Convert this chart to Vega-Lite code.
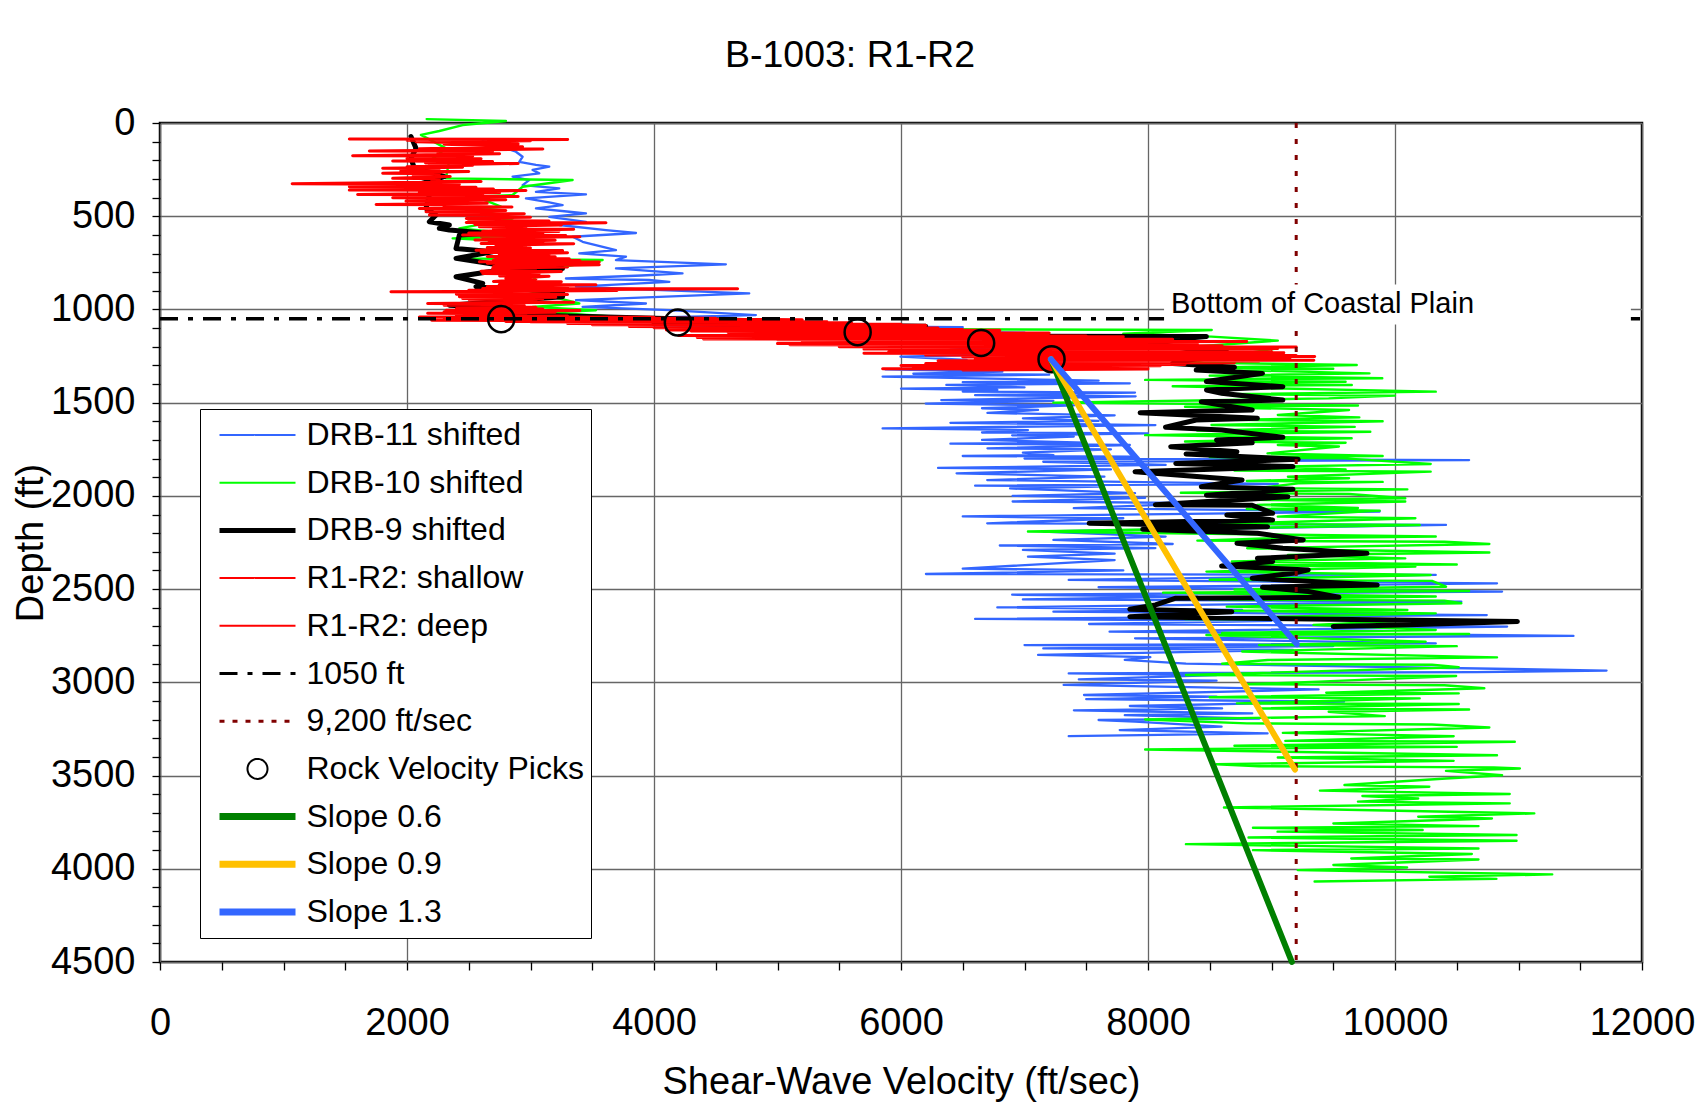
{
"$schema":"https://vega.github.io/schema/vega-lite/v6.json",
"width":1482,"height":839,
"autosize":{"type":"none"},
"padding":{"left":160,"top":123,"right":55,"bottom":148},
"background":"white",
"title":{"text":"B-1003: R1-R2","fontSize":37.5,"font":"Liberation Sans","fontWeight":"normal","color":"#000","anchor":"middle","frame":"group","dx":-51,"dy":47,"offset":47,"baseline":"alphabetic"},
"config":{"font":"Liberation Sans","view":{"stroke":"#000","strokeWidth":2.5},
"axis":{"labelFont":"Liberation Sans","labelFontSize":38,"labelColor":"#000","titleFont":"Liberation Sans","titleFontSize":38,"titleFontWeight":"normal","titleColor":"#000","tickColor":"#000","tickWidth":1.3,"tickSize":8,"domain":false,"gridColor":"#666666","gridWidth":1.3}},
"datasets":{
"b11":[
{"s":"DRB-11 shifted","v":2612,"d":97},{"s":"DRB-11 shifted","v":2720,"d":118},{"s":"DRB-11 shifted","v":2882,"d":154},{"s":"DRB-11 shifted","v":2936,"d":181},{"s":"DRB-11 shifted","v":2909,"d":208},{"s":"DRB-11 shifted","v":3044,"d":225},{"s":"DRB-11 shifted","v":3152,"d":234},{"s":"DRB-11 shifted","v":3017,"d":252},{"s":"DRB-11 shifted","v":3071,"d":270},{"s":"DRB-11 shifted","v":2855,"d":288},{"s":"DRB-11 shifted","v":2990,"d":306},{"s":"DRB-11 shifted","v":2936,"d":333},{"s":"DRB-11 shifted","v":3233,"d":351},{"s":"DRB-11 shifted","v":3044,"d":369},{"s":"DRB-11 shifted","v":3449,"d":383},{"s":"DRB-11 shifted","v":2963,"d":404},{"s":"DRB-11 shifted","v":3152,"d":426},{"s":"DRB-11 shifted","v":3260,"d":440},{"s":"DRB-11 shifted","v":3044,"d":458},{"s":"DRB-11 shifted","v":3314,"d":476},{"s":"DRB-11 shifted","v":3449,"d":485},{"s":"DRB-11 shifted","v":3152,"d":503},{"s":"DRB-11 shifted","v":3449,"d":530},{"s":"DRB-11 shifted","v":3233,"d":547},{"s":"DRB-11 shifted","v":3611,"d":574},{"s":"DRB-11 shifted","v":3854,"d":590},{"s":"DRB-11 shifted","v":3341,"d":610},{"s":"DRB-11 shifted","v":3422,"d":637},{"s":"DRB-11 shifted","v":3692,"d":682},{"s":"DRB-11 shifted","v":3395,"d":699},{"s":"DRB-11 shifted","v":3773,"d":717},{"s":"DRB-11 shifted","v":3692,"d":735},{"s":"DRB-11 shifted","v":4582,"d":758},{"s":"DRB-11 shifted","v":3692,"d":780},{"s":"DRB-11 shifted","v":4231,"d":807},{"s":"DRB-11 shifted","v":3900,"d":818},{"s":"DRB-11 shifted","v":3287,"d":834},{"s":"DRB-11 shifted","v":3962,"d":842},{"s":"DRB-11 shifted","v":4124,"d":852},{"s":"DRB-11 shifted","v":3368,"d":878},{"s":"DRB-11 shifted","v":4000,"d":895},{"s":"DRB-11 shifted","v":4771,"d":914},{"s":"DRB-11 shifted","v":3368,"d":950},{"s":"DRB-11 shifted","v":3935,"d":968},{"s":"DRB-11 shifted","v":3422,"d":986},{"s":"DRB-11 shifted","v":4124,"d":1004},{"s":"DRB-11 shifted","v":4825,"d":1030},{"s":"DRB-11 shifted","v":3692,"d":1048},{"s":"DRB-11 shifted","v":5200,"d":1068},{"s":"DRB-11 shifted","v":4000,"d":1085},{"s":"DRB-11 shifted","v":6500,"d":1095},{"s":"DRB-11 shifted","v":5000,"d":1105},{"s":"DRB-11 shifted","v":7000,"d":1125},{"s":"DRB-11 shifted","v":6200,"d":1150},{"s":"DRB-11 shifted","v":7474,"d":1180},{"s":"DRB-11 shifted","v":6400,"d":1215},{"s":"DRB-11 shifted","v":7100,"d":1238},{"s":"DRB-11 shifted","v":5996,"d":1253},{"s":"DRB-11 shifted","v":6532,"d":1271},{"s":"DRB-11 shifted","v":6300,"d":1290},{"s":"DRB-11 shifted","v":7400,"d":1300},{"s":"DRB-11 shifted","v":5872,"d":1321},{"s":"DRB-11 shifted","v":6821,"d":1334},{"s":"DRB-11 shifted","v":6100,"d":1345},{"s":"DRB-11 shifted","v":7200,"d":1350},{"s":"DRB-11 shifted","v":5851,"d":1360},{"s":"DRB-11 shifted","v":7600,"d":1382},{"s":"DRB-11 shifted","v":6500,"d":1390},{"s":"DRB-11 shifted","v":7853,"d":1396},{"s":"DRB-11 shifted","v":6367,"d":1405},{"s":"DRB-11 shifted","v":7000,"d":1418},{"s":"DRB-11 shifted","v":6000,"d":1425},{"s":"DRB-11 shifted","v":6780,"d":1432},{"s":"DRB-11 shifted","v":6500,"d":1440},{"s":"DRB-11 shifted","v":7895,"d":1446},{"s":"DRB-11 shifted","v":6600,"d":1460},{"s":"DRB-11 shifted","v":7900,"d":1466},{"s":"DRB-11 shifted","v":6326,"d":1486},{"s":"DRB-11 shifted","v":7234,"d":1490},{"s":"DRB-11 shifted","v":6200,"d":1505},{"s":"DRB-11 shifted","v":7400,"d":1515},{"s":"DRB-11 shifted","v":6656,"d":1530},{"s":"DRB-11 shifted","v":7110,"d":1539},{"s":"DRB-11 shifted","v":6700,"d":1555},{"s":"DRB-11 shifted","v":7730,"d":1568},{"s":"DRB-11 shifted","v":6987,"d":1584},{"s":"DRB-11 shifted","v":7600,"d":1598},{"s":"DRB-11 shifted","v":6400,"d":1608},{"s":"DRB-11 shifted","v":8060,"d":1620},{"s":"DRB-11 shifted","v":5851,"d":1638},{"s":"DRB-11 shifted","v":7028,"d":1647},{"s":"DRB-11 shifted","v":6656,"d":1660},{"s":"DRB-11 shifted","v":8000,"d":1665},{"s":"DRB-11 shifted","v":6900,"d":1675},{"s":"DRB-11 shifted","v":7399,"d":1682},{"s":"DRB-11 shifted","v":6656,"d":1700},{"s":"DRB-11 shifted","v":7500,"d":1715},{"s":"DRB-11 shifted","v":6400,"d":1720},{"s":"DRB-11 shifted","v":7853,"d":1727},{"s":"DRB-11 shifted","v":6700,"d":1745},{"s":"DRB-11 shifted","v":7700,"d":1750},{"s":"DRB-11 shifted","v":6987,"d":1768},{"s":"DRB-11 shifted","v":7234,"d":1781},{"s":"DRB-11 shifted","v":6500,"d":1786},{"s":"DRB-11 shifted","v":7895,"d":1790},{"s":"DRB-11 shifted","v":7000,"d":1800},{"s":"DRB-11 shifted","v":10600,"d":1808},{"s":"DRB-11 shifted","v":7152,"d":1817},{"s":"DRB-11 shifted","v":8143,"d":1834},{"s":"DRB-11 shifted","v":6300,"d":1850},{"s":"DRB-11 shifted","v":7700,"d":1858},{"s":"DRB-11 shifted","v":6450,"d":1879},{"s":"DRB-11 shifted","v":7647,"d":1897},{"s":"DRB-11 shifted","v":6698,"d":1915},{"s":"DRB-11 shifted","v":9051,"d":1936},{"s":"DRB-11 shifted","v":6600,"d":1945},{"s":"DRB-11 shifted","v":7600,"d":1950},{"s":"DRB-11 shifted","v":6883,"d":1960},{"s":"DRB-11 shifted","v":7895,"d":1985},{"s":"DRB-11 shifted","v":6904,"d":2000},{"s":"DRB-11 shifted","v":7977,"d":2010},{"s":"DRB-11 shifted","v":6904,"d":2030},{"s":"DRB-11 shifted","v":8473,"d":2039},{"s":"DRB-11 shifted","v":7399,"d":2066},{"s":"DRB-11 shifted","v":9876,"d":2084},{"s":"DRB-11 shifted","v":6500,"d":2110},{"s":"DRB-11 shifted","v":7800,"d":2120},{"s":"DRB-11 shifted","v":6698,"d":2147},{"s":"DRB-11 shifted","v":10413,"d":2156},{"s":"DRB-11 shifted","v":7152,"d":2191},{"s":"DRB-11 shifted","v":8143,"d":2218},{"s":"DRB-11 shifted","v":7234,"d":2236},{"s":"DRB-11 shifted","v":8200,"d":2258},{"s":"DRB-11 shifted","v":6800,"d":2266},{"s":"DRB-11 shifted","v":8060,"d":2280},{"s":"DRB-11 shifted","v":6987,"d":2290},{"s":"DRB-11 shifted","v":7730,"d":2310},{"s":"DRB-11 shifted","v":7028,"d":2326},{"s":"DRB-11 shifted","v":7730,"d":2344},{"s":"DRB-11 shifted","v":6500,"d":2390},{"s":"DRB-11 shifted","v":7800,"d":2400},{"s":"DRB-11 shifted","v":6202,"d":2419},{"s":"DRB-11 shifted","v":10330,"d":2424},{"s":"DRB-11 shifted","v":7358,"d":2451},{"s":"DRB-11 shifted","v":10826,"d":2469},{"s":"DRB-11 shifted","v":7600,"d":2490},{"s":"DRB-11 shifted","v":10867,"d":2513},{"s":"DRB-11 shifted","v":6900,"d":2530},{"s":"DRB-11 shifted","v":8400,"d":2540},{"s":"DRB-11 shifted","v":6987,"d":2555},{"s":"DRB-11 shifted","v":10537,"d":2567},{"s":"DRB-11 shifted","v":6780,"d":2598},{"s":"DRB-11 shifted","v":8762,"d":2612},{"s":"DRB-11 shifted","v":7234,"d":2621},{"s":"DRB-11 shifted","v":10743,"d":2639},{"s":"DRB-11 shifted","v":6600,"d":2660},{"s":"DRB-11 shifted","v":9000,"d":2670},{"s":"DRB-11 shifted","v":7523,"d":2687},{"s":"DRB-11 shifted","v":10908,"d":2701},{"s":"DRB-11 shifted","v":7689,"d":2728},{"s":"DRB-11 shifted","v":11445,"d":2751},{"s":"DRB-11 shifted","v":7895,"d":2764},{"s":"DRB-11 shifted","v":10330,"d":2791},{"s":"DRB-11 shifted","v":7000,"d":2800},{"s":"DRB-11 shifted","v":9500,"d":2805},{"s":"DRB-11 shifted","v":7152,"d":2818},{"s":"DRB-11 shifted","v":9174,"d":2826},{"s":"DRB-11 shifted","v":7110,"d":2853},{"s":"DRB-11 shifted","v":8019,"d":2865},{"s":"DRB-11 shifted","v":7812,"d":2880},{"s":"DRB-11 shifted","v":8308,"d":2900},{"s":"DRB-11 shifted","v":11713,"d":2937},{"s":"DRB-11 shifted","v":10661,"d":2945},{"s":"DRB-11 shifted","v":7358,"d":2952},{"s":"DRB-11 shifted","v":8555,"d":2961},{"s":"DRB-11 shifted","v":7440,"d":2984},{"s":"DRB-11 shifted","v":8555,"d":2991},{"s":"DRB-11 shifted","v":7317,"d":3014},{"s":"DRB-11 shifted","v":9381,"d":3038},{"s":"DRB-11 shifted","v":7482,"d":3068},{"s":"DRB-11 shifted","v":8555,"d":3077},{"s":"DRB-11 shifted","v":7500,"d":3090},{"s":"DRB-11 shifted","v":9587,"d":3104},{"s":"DRB-11 shifted","v":7853,"d":3127},{"s":"DRB-11 shifted","v":8600,"d":3140},{"s":"DRB-11 shifted","v":7400,"d":3150},{"s":"DRB-11 shifted","v":8844,"d":3167},{"s":"DRB-11 shifted","v":7812,"d":3176},{"s":"DRB-11 shifted","v":8900,"d":3195},{"s":"DRB-11 shifted","v":7600,"d":3202},{"s":"DRB-11 shifted","v":7895,"d":3211},{"s":"DRB-11 shifted","v":8596,"d":3238},{"s":"DRB-11 shifted","v":7771,"d":3256},{"s":"DRB-11 shifted","v":8968,"d":3274},{"s":"DRB-11 shifted","v":7358,"d":3289}
],
"g10":[
{"s":"DRB-10 shifted","v":2159,"d":-21},{"s":"DRB-10 shifted","v":2801,"d":-11},{"s":"DRB-10 shifted","v":2451,"d":11},{"s":"DRB-10 shifted","v":2262,"d":43},{"s":"DRB-10 shifted","v":2113,"d":64},{"s":"DRB-10 shifted","v":2316,"d":136},{"s":"DRB-10 shifted","v":2208,"d":190},{"s":"DRB-10 shifted","v":2343,"d":195},{"s":"DRB-10 shifted","v":2316,"d":297},{"s":"DRB-10 shifted","v":3341,"d":306},{"s":"DRB-10 shifted","v":2936,"d":342},{"s":"DRB-10 shifted","v":2855,"d":386},{"s":"DRB-10 shifted","v":2559,"d":395},{"s":"DRB-10 shifted","v":2761,"d":449},{"s":"DRB-10 shifted","v":2559,"d":462},{"s":"DRB-10 shifted","v":2855,"d":512},{"s":"DRB-10 shifted","v":2424,"d":565},{"s":"DRB-10 shifted","v":2990,"d":601},{"s":"DRB-10 shifted","v":2370,"d":619},{"s":"DRB-10 shifted","v":3017,"d":640},{"s":"DRB-10 shifted","v":2424,"d":726},{"s":"DRB-10 shifted","v":3584,"d":735},{"s":"DRB-10 shifted","v":2855,"d":816},{"s":"DRB-10 shifted","v":3044,"d":825},{"s":"DRB-10 shifted","v":2963,"d":896},{"s":"DRB-10 shifted","v":3395,"d":968},{"s":"DRB-10 shifted","v":3017,"d":986},{"s":"DRB-10 shifted","v":3530,"d":1004},{"s":"DRB-10 shifted","v":3152,"d":1016},{"s":"DRB-10 shifted","v":3692,"d":1039},{"s":"DRB-10 shifted","v":4800,"d":1060},{"s":"DRB-10 shifted","v":4200,"d":1075},{"s":"DRB-10 shifted","v":6200,"d":1100},{"s":"DRB-10 shifted","v":5600,"d":1105},{"s":"DRB-10 shifted","v":8516,"d":1110},{"s":"DRB-10 shifted","v":7800,"d":1130},{"s":"DRB-10 shifted","v":8514,"d":1146},{"s":"DRB-10 shifted","v":9051,"d":1167},{"s":"DRB-10 shifted","v":8308,"d":1203},{"s":"DRB-10 shifted","v":9051,"d":1208},{"s":"DRB-10 shifted","v":8308,"d":1285},{"s":"DRB-10 shifted","v":9690,"d":1298},{"s":"DRB-10 shifted","v":8400,"d":1312},{"s":"DRB-10 shifted","v":9500,"d":1318},{"s":"DRB-10 shifted","v":8720,"d":1325},{"s":"DRB-10 shifted","v":9793,"d":1343},{"s":"DRB-10 shifted","v":8500,"d":1355},{"s":"DRB-10 shifted","v":9897,"d":1369},{"s":"DRB-10 shifted","v":7977,"d":1378},{"s":"DRB-10 shifted","v":9600,"d":1388},{"s":"DRB-10 shifted","v":8596,"d":1396},{"s":"DRB-10 shifted","v":9650,"d":1405},{"s":"DRB-10 shifted","v":8200,"d":1412},{"s":"DRB-10 shifted","v":10330,"d":1441},{"s":"DRB-10 shifted","v":8600,"d":1455},{"s":"DRB-10 shifted","v":10000,"d":1462},{"s":"DRB-10 shifted","v":9463,"d":1477},{"s":"DRB-10 shifted","v":8400,"d":1488},{"s":"DRB-10 shifted","v":7234,"d":1500},{"s":"DRB-10 shifted","v":9700,"d":1515},{"s":"DRB-10 shifted","v":8300,"d":1522},{"s":"DRB-10 shifted","v":9628,"d":1539},{"s":"DRB-10 shifted","v":9051,"d":1566},{"s":"DRB-10 shifted","v":9711,"d":1579},{"s":"DRB-10 shifted","v":8700,"d":1592},{"s":"DRB-10 shifted","v":9900,"d":1600},{"s":"DRB-10 shifted","v":8514,"d":1620},{"s":"DRB-10 shifted","v":9674,"d":1630},{"s":"DRB-10 shifted","v":8400,"d":1650},{"s":"DRB-10 shifted","v":9800,"d":1656},{"s":"DRB-10 shifted","v":7977,"d":1674},{"s":"DRB-10 shifted","v":9649,"d":1691},{"s":"DRB-10 shifted","v":8300,"d":1708},{"s":"DRB-10 shifted","v":9600,"d":1715},{"s":"DRB-10 shifted","v":9051,"d":1727},{"s":"DRB-10 shifted","v":9546,"d":1735},{"s":"DRB-10 shifted","v":8968,"d":1772},{"s":"DRB-10 shifted","v":9900,"d":1786},{"s":"DRB-10 shifted","v":8500,"d":1792},{"s":"DRB-10 shifted","v":9587,"d":1799},{"s":"DRB-10 shifted","v":10289,"d":1829},{"s":"DRB-10 shifted","v":9009,"d":1843},{"s":"DRB-10 shifted","v":9600,"d":1858},{"s":"DRB-10 shifted","v":8700,"d":1864},{"s":"DRB-10 shifted","v":10289,"d":1870},{"s":"DRB-10 shifted","v":9133,"d":1897},{"s":"DRB-10 shifted","v":9628,"d":1905},{"s":"DRB-10 shifted","v":8800,"d":1920},{"s":"DRB-10 shifted","v":9900,"d":1925},{"s":"DRB-10 shifted","v":9216,"d":1933},{"s":"DRB-10 shifted","v":8900,"d":1958},{"s":"DRB-10 shifted","v":10100,"d":1965},{"s":"DRB-10 shifted","v":8266,"d":1983},{"s":"DRB-10 shifted","v":9628,"d":1990},{"s":"DRB-10 shifted","v":10083,"d":2013},{"s":"DRB-10 shifted","v":8885,"d":2021},{"s":"DRB-10 shifted","v":10083,"d":2030},{"s":"DRB-10 shifted","v":8885,"d":2048},{"s":"DRB-10 shifted","v":9700,"d":2065},{"s":"DRB-10 shifted","v":8800,"d":2070},{"s":"DRB-10 shifted","v":9876,"d":2079},{"s":"DRB-10 shifted","v":9051,"d":2111},{"s":"DRB-10 shifted","v":10165,"d":2120},{"s":"DRB-10 shifted","v":8600,"d":2150},{"s":"DRB-10 shifted","v":10200,"d":2156},{"s":"DRB-10 shifted","v":7028,"d":2191},{"s":"DRB-10 shifted","v":10330,"d":2218},{"s":"DRB-10 shifted","v":9009,"d":2227},{"s":"DRB-10 shifted","v":8400,"d":2240},{"s":"DRB-10 shifted","v":10400,"d":2246},{"s":"DRB-10 shifted","v":10764,"d":2258},{"s":"DRB-10 shifted","v":8803,"d":2281},{"s":"DRB-10 shifted","v":10764,"d":2304},{"s":"DRB-10 shifted","v":9133,"d":2317},{"s":"DRB-10 shifted","v":10083,"d":2335},{"s":"DRB-10 shifted","v":8679,"d":2352},{"s":"DRB-10 shifted","v":10500,"d":2368},{"s":"DRB-10 shifted","v":8700,"d":2372},{"s":"DRB-10 shifted","v":10165,"d":2379},{"s":"DRB-10 shifted","v":8473,"d":2406},{"s":"DRB-10 shifted","v":10289,"d":2424},{"s":"DRB-10 shifted","v":8500,"d":2450},{"s":"DRB-10 shifted","v":10300,"d":2456},{"s":"DRB-10 shifted","v":10413,"d":2487},{"s":"DRB-10 shifted","v":8700,"d":2502},{"s":"DRB-10 shifted","v":10600,"d":2510},{"s":"DRB-10 shifted","v":8122,"d":2519},{"s":"DRB-10 shifted","v":10330,"d":2540},{"s":"DRB-10 shifted","v":8500,"d":2555},{"s":"DRB-10 shifted","v":10400,"d":2562},{"s":"DRB-10 shifted","v":10537,"d":2576},{"s":"DRB-10 shifted","v":8638,"d":2594},{"s":"DRB-10 shifted","v":10100,"d":2612},{"s":"DRB-10 shifted","v":8700,"d":2616},{"s":"DRB-10 shifted","v":10330,"d":2630},{"s":"DRB-10 shifted","v":8300,"d":2660},{"s":"DRB-10 shifted","v":10200,"d":2666},{"s":"DRB-10 shifted","v":9340,"d":2692},{"s":"DRB-10 shifted","v":10330,"d":2719},{"s":"DRB-10 shifted","v":8600,"d":2735},{"s":"DRB-10 shifted","v":10600,"d":2741},{"s":"DRB-10 shifted","v":8473,"d":2746},{"s":"DRB-10 shifted","v":10248,"d":2782},{"s":"DRB-10 shifted","v":8900,"d":2800},{"s":"DRB-10 shifted","v":10500,"d":2806},{"s":"DRB-10 shifted","v":8762,"d":2835},{"s":"DRB-10 shifted","v":10826,"d":2866},{"s":"DRB-10 shifted","v":8968,"d":2880},{"s":"DRB-10 shifted","v":8600,"d":2900},{"s":"DRB-10 shifted","v":10300,"d":2906},{"s":"DRB-10 shifted","v":10516,"d":2919},{"s":"DRB-10 shifted","v":8308,"d":2961},{"s":"DRB-10 shifted","v":10495,"d":2966},{"s":"DRB-10 shifted","v":9381,"d":2996},{"s":"DRB-10 shifted","v":8800,"d":3010},{"s":"DRB-10 shifted","v":10400,"d":3016},{"s":"DRB-10 shifted","v":10723,"d":3032},{"s":"DRB-10 shifted","v":9443,"d":3056},{"s":"DRB-10 shifted","v":10516,"d":3059},{"s":"DRB-10 shifted","v":8500,"d":3080},{"s":"DRB-10 shifted","v":10200,"d":3086},{"s":"DRB-10 shifted","v":8720,"d":3113},{"s":"DRB-10 shifted","v":10516,"d":3116},{"s":"DRB-10 shifted","v":8900,"d":3140},{"s":"DRB-10 shifted","v":10600,"d":3146},{"s":"DRB-10 shifted","v":9463,"d":3158},{"s":"DRB-10 shifted","v":9917,"d":3181},{"s":"DRB-10 shifted","v":7977,"d":3199},{"s":"DRB-10 shifted","v":8800,"d":3220},{"s":"DRB-10 shifted","v":10300,"d":3226},{"s":"DRB-10 shifted","v":10764,"d":3242},{"s":"DRB-10 shifted","v":9092,"d":3271},{"s":"DRB-10 shifted","v":10475,"d":3289},{"s":"DRB-10 shifted","v":9112,"d":3314},{"s":"DRB-10 shifted","v":10970,"d":3319},{"s":"DRB-10 shifted","v":8700,"d":3340},{"s":"DRB-10 shifted","v":10500,"d":3346},{"s":"DRB-10 shifted","v":7977,"d":3360},{"s":"DRB-10 shifted","v":10826,"d":3391},{"s":"DRB-10 shifted","v":9051,"d":3403},{"s":"DRB-10 shifted","v":10475,"d":3421},{"s":"DRB-10 shifted","v":8555,"d":3439},{"s":"DRB-10 shifted","v":8900,"d":3450},{"s":"DRB-10 shifted","v":10800,"d":3456},{"s":"DRB-10 shifted","v":11011,"d":3462},{"s":"DRB-10 shifted","v":10413,"d":3475},{"s":"DRB-10 shifted","v":10867,"d":3498},{"s":"DRB-10 shifted","v":10413,"d":3516},{"s":"DRB-10 shifted","v":9591,"d":3551},{"s":"DRB-10 shifted","v":10278,"d":3560},{"s":"DRB-10 shifted","v":9392,"d":3581},{"s":"DRB-10 shifted","v":10929,"d":3599},{"s":"DRB-10 shifted","v":9736,"d":3610},{"s":"DRB-10 shifted","v":10188,"d":3623},{"s":"DRB-10 shifted","v":9700,"d":3640},{"s":"DRB-10 shifted","v":10929,"d":3649},{"s":"DRB-10 shifted","v":8615,"d":3671},{"s":"DRB-10 shifted","v":11128,"d":3703},{"s":"DRB-10 shifted","v":10188,"d":3721},{"s":"DRB-10 shifted","v":10785,"d":3730},{"s":"DRB-10 shifted","v":9501,"d":3757},{"s":"DRB-10 shifted","v":10676,"d":3771},{"s":"DRB-10 shifted","v":8850,"d":3780},{"s":"DRB-10 shifted","v":10224,"d":3792},{"s":"DRB-10 shifted","v":9049,"d":3801},{"s":"DRB-10 shifted","v":10984,"d":3819},{"s":"DRB-10 shifted","v":8814,"d":3832},{"s":"DRB-10 shifted","v":10984,"d":3850},{"s":"DRB-10 shifted","v":8307,"d":3868},{"s":"DRB-10 shifted","v":10676,"d":3891},{"s":"DRB-10 shifted","v":8850,"d":3900},{"s":"DRB-10 shifted","v":10622,"d":3921},{"s":"DRB-10 shifted","v":9646,"d":3945},{"s":"DRB-10 shifted","v":10676,"d":3950},{"s":"DRB-10 shifted","v":9501,"d":3980},{"s":"DRB-10 shifted","v":10098,"d":3993},{"s":"DRB-10 shifted","v":9212,"d":4007},{"s":"DRB-10 shifted","v":11273,"d":4030},{"s":"DRB-10 shifted","v":10278,"d":4043},{"s":"DRB-10 shifted","v":10821,"d":4054},{"s":"DRB-10 shifted","v":9349,"d":4068}
],
"k9":[
{"s":"DRB-9 shifted","v":2032,"d":73},{"s":"DRB-9 shifted","v":2073,"d":136},{"s":"DRB-9 shifted","v":2032,"d":190},{"s":"DRB-9 shifted","v":2060,"d":243},{"s":"DRB-9 shifted","v":2221,"d":270},{"s":"DRB-9 shifted","v":2302,"d":288},{"s":"DRB-9 shifted","v":2073,"d":333},{"s":"DRB-9 shifted","v":2181,"d":386},{"s":"DRB-9 shifted","v":2154,"d":458},{"s":"DRB-9 shifted","v":2235,"d":494},{"s":"DRB-9 shifted","v":2181,"d":530},{"s":"DRB-9 shifted","v":2343,"d":547},{"s":"DRB-9 shifted","v":2262,"d":565},{"s":"DRB-9 shifted","v":2343,"d":574},{"s":"DRB-9 shifted","v":2666,"d":592},{"s":"DRB-9 shifted","v":2424,"d":601},{"s":"DRB-9 shifted","v":2397,"d":673},{"s":"DRB-9 shifted","v":2693,"d":691},{"s":"DRB-9 shifted","v":2397,"d":726},{"s":"DRB-9 shifted","v":2747,"d":762},{"s":"DRB-9 shifted","v":3260,"d":780},{"s":"DRB-9 shifted","v":2666,"d":798},{"s":"DRB-9 shifted","v":2397,"d":825},{"s":"DRB-9 shifted","v":2613,"d":860},{"s":"DRB-9 shifted","v":2559,"d":878},{"s":"DRB-9 shifted","v":3260,"d":905},{"s":"DRB-9 shifted","v":3260,"d":932},{"s":"DRB-9 shifted","v":2343,"d":977},{"s":"DRB-9 shifted","v":2936,"d":995},{"s":"DRB-9 shifted","v":2774,"d":1027},{"s":"DRB-9 shifted","v":5176,"d":1066},{"s":"DRB-9 shifted","v":4000,"d":1075},{"s":"DRB-9 shifted","v":6200,"d":1090},{"s":"DRB-9 shifted","v":5900,"d":1142},{"s":"DRB-9 shifted","v":8473,"d":1145},{"s":"DRB-9 shifted","v":7770,"d":1185},{"s":"DRB-9 shifted","v":8100,"d":1188},{"s":"DRB-9 shifted","v":8470,"d":1226},{"s":"DRB-9 shifted","v":8640,"d":1230},{"s":"DRB-9 shifted","v":8200,"d":1290},{"s":"DRB-9 shifted","v":8700,"d":1310},{"s":"DRB-9 shifted","v":8390,"d":1325},{"s":"DRB-9 shifted","v":8927,"d":1343},{"s":"DRB-9 shifted","v":8473,"d":1387},{"s":"DRB-9 shifted","v":9092,"d":1414},{"s":"DRB-9 shifted","v":8473,"d":1432},{"s":"DRB-9 shifted","v":8597,"d":1450},{"s":"DRB-9 shifted","v":9092,"d":1486},{"s":"DRB-9 shifted","v":8431,"d":1495},{"s":"DRB-9 shifted","v":8844,"d":1539},{"s":"DRB-9 shifted","v":7936,"d":1554},{"s":"DRB-9 shifted","v":8886,"d":1584},{"s":"DRB-9 shifted","v":8390,"d":1593},{"s":"DRB-9 shifted","v":8142,"d":1632},{"s":"DRB-9 shifted","v":8597,"d":1647},{"s":"DRB-9 shifted","v":9092,"d":1686},{"s":"DRB-9 shifted","v":8555,"d":1700},{"s":"DRB-9 shifted","v":8844,"d":1715},{"s":"DRB-9 shifted","v":8184,"d":1736},{"s":"DRB-9 shifted","v":8720,"d":1763},{"s":"DRB-9 shifted","v":8308,"d":1775},{"s":"DRB-9 shifted","v":9216,"d":1804},{"s":"DRB-9 shifted","v":8225,"d":1826},{"s":"DRB-9 shifted","v":9174,"d":1843},{"s":"DRB-9 shifted","v":7895,"d":1870},{"s":"DRB-9 shifted","v":8762,"d":1915},{"s":"DRB-9 shifted","v":8432,"d":1951},{"s":"DRB-9 shifted","v":9174,"d":1965},{"s":"DRB-9 shifted","v":8473,"d":1996},{"s":"DRB-9 shifted","v":9133,"d":2004},{"s":"DRB-9 shifted","v":8060,"d":2048},{"s":"DRB-9 shifted","v":8844,"d":2050},{"s":"DRB-9 shifted","v":9009,"d":2093},{"s":"DRB-9 shifted","v":8638,"d":2102},{"s":"DRB-9 shifted","v":9009,"d":2129},{"s":"DRB-9 shifted","v":7523,"d":2147},{"s":"DRB-9 shifted","v":8968,"d":2165},{"s":"DRB-9 shifted","v":7957,"d":2179},{"s":"DRB-9 shifted","v":8886,"d":2200},{"s":"DRB-9 shifted","v":9257,"d":2236},{"s":"DRB-9 shifted","v":8720,"d":2254},{"s":"DRB-9 shifted","v":9092,"d":2281},{"s":"DRB-9 shifted","v":9773,"d":2308},{"s":"DRB-9 shifted","v":8886,"d":2335},{"s":"DRB-9 shifted","v":9009,"d":2352},{"s":"DRB-9 shifted","v":8596,"d":2376},{"s":"DRB-9 shifted","v":9298,"d":2397},{"s":"DRB-9 shifted","v":9174,"d":2415},{"s":"DRB-9 shifted","v":8844,"d":2442},{"s":"DRB-9 shifted","v":9856,"d":2478},{"s":"DRB-9 shifted","v":8927,"d":2490},{"s":"DRB-9 shifted","v":9298,"d":2513},{"s":"DRB-9 shifted","v":9546,"d":2544},{"s":"DRB-9 shifted","v":8225,"d":2549},{"s":"DRB-9 shifted","v":8060,"d":2585},{"s":"DRB-9 shifted","v":7853,"d":2608},{"s":"DRB-9 shifted","v":8679,"d":2621},{"s":"DRB-9 shifted","v":7853,"d":2648},{"s":"DRB-9 shifted","v":10991,"d":2674},{"s":"DRB-9 shifted","v":10041,"d":2692},{"s":"DRB-9 shifted","v":9500,"d":2700}
],
"rs":[
{"s":"R1-R2: shallow","v":1533,"d":86},{"s":"R1-R2: shallow","v":3301,"d":88},{"s":"R1-R2: shallow","v":2000,"d":93},{"s":"R1-R2: shallow","v":3000,"d":95},{"s":"R1-R2: shallow","v":2073,"d":100},{"s":"R1-R2: shallow","v":2900,"d":112},{"s":"R1-R2: shallow","v":2300,"d":114},{"s":"R1-R2: shallow","v":2936,"d":127},{"s":"R1-R2: shallow","v":2100,"d":138},{"s":"R1-R2: shallow","v":3100,"d":140},{"s":"R1-R2: shallow","v":1695,"d":150},{"s":"R1-R2: shallow","v":2693,"d":152},{"s":"R1-R2: shallow","v":2250,"d":163},{"s":"R1-R2: shallow","v":2750,"d":165},{"s":"R1-R2: shallow","v":1560,"d":175},{"s":"R1-R2: shallow","v":2532,"d":177},{"s":"R1-R2: shallow","v":2000,"d":190},{"s":"R1-R2: shallow","v":2600,"d":192},{"s":"R1-R2: shallow","v":1884,"d":204},{"s":"R1-R2: shallow","v":2693,"d":206},{"s":"R1-R2: shallow","v":2150,"d":215},{"s":"R1-R2: shallow","v":2900,"d":217},{"s":"R1-R2: shallow","v":2181,"d":225},{"s":"R1-R2: shallow","v":2532,"d":227},{"s":"R1-R2: shallow","v":2000,"d":235},{"s":"R1-R2: shallow","v":2450,"d":237},{"s":"R1-R2: shallow","v":1803,"d":243},{"s":"R1-R2: shallow","v":2262,"d":245},{"s":"R1-R2: shallow","v":1950,"d":258},{"s":"R1-R2: shallow","v":2500,"d":260},{"s":"R1-R2: shallow","v":1803,"d":270},{"s":"R1-R2: shallow","v":2262,"d":272},{"s":"R1-R2: shallow","v":2050,"d":285},{"s":"R1-R2: shallow","v":2350,"d":287},{"s":"R1-R2: shallow","v":1884,"d":297},{"s":"R1-R2: shallow","v":2262,"d":299},{"s":"R1-R2: shallow","v":2200,"d":312},{"s":"R1-R2: shallow","v":2600,"d":314},{"s":"R1-R2: shallow","v":1070,"d":326},{"s":"R1-R2: shallow","v":2424,"d":330},{"s":"R1-R2: shallow","v":1533,"d":342},{"s":"R1-R2: shallow","v":2559,"d":344},{"s":"R1-R2: shallow","v":1800,"d":352},{"s":"R1-R2: shallow","v":2700,"d":354},{"s":"R1-R2: shallow","v":1533,"d":360},{"s":"R1-R2: shallow","v":2963,"d":362},{"s":"R1-R2: shallow","v":2100,"d":372},{"s":"R1-R2: shallow","v":2750,"d":374},{"s":"R1-R2: shallow","v":1600,"d":383},{"s":"R1-R2: shallow","v":2613,"d":385},{"s":"R1-R2: shallow","v":2200,"d":392},{"s":"R1-R2: shallow","v":2900,"d":394},{"s":"R1-R2: shallow","v":1884,"d":401},{"s":"R1-R2: shallow","v":2559,"d":403},{"s":"R1-R2: shallow","v":2300,"d":410},{"s":"R1-R2: shallow","v":2800,"d":412},{"s":"R1-R2: shallow","v":1992,"d":419},{"s":"R1-R2: shallow","v":2450,"d":421},{"s":"R1-R2: shallow","v":2250,"d":428},{"s":"R1-R2: shallow","v":2650,"d":430},{"s":"R1-R2: shallow","v":1750,"d":437},{"s":"R1-R2: shallow","v":2370,"d":439},{"s":"R1-R2: shallow","v":2300,"d":448},{"s":"R1-R2: shallow","v":2850,"d":450},{"s":"R1-R2: shallow","v":2100,"d":458},{"s":"R1-R2: shallow","v":2532,"d":460},{"s":"R1-R2: shallow","v":2350,"d":467},{"s":"R1-R2: shallow","v":2800,"d":469},{"s":"R1-R2: shallow","v":2154,"d":476},{"s":"R1-R2: shallow","v":2666,"d":478},{"s":"R1-R2: shallow","v":2400,"d":485},{"s":"R1-R2: shallow","v":2950,"d":487},{"s":"R1-R2: shallow","v":2181,"d":494},{"s":"R1-R2: shallow","v":2747,"d":496},{"s":"R1-R2: shallow","v":2550,"d":503},{"s":"R1-R2: shallow","v":3000,"d":505},{"s":"R1-R2: shallow","v":2480,"d":512},{"s":"R1-R2: shallow","v":2747,"d":514},{"s":"R1-R2: shallow","v":2500,"d":523},{"s":"R1-R2: shallow","v":3150,"d":525},{"s":"R1-R2: shallow","v":2480,"d":533},{"s":"R1-R2: shallow","v":3611,"d":535},{"s":"R1-R2: shallow","v":2550,"d":545},{"s":"R1-R2: shallow","v":3250,"d":547},{"s":"R1-R2: shallow","v":2586,"d":556},{"s":"R1-R2: shallow","v":2963,"d":558},{"s":"R1-R2: shallow","v":2700,"d":568},{"s":"R1-R2: shallow","v":3350,"d":570},{"s":"R1-R2: shallow","v":2613,"d":580},{"s":"R1-R2: shallow","v":3230,"d":582},{"s":"R1-R2: shallow","v":2500,"d":590},{"s":"R1-R2: shallow","v":3100,"d":592},{"s":"R1-R2: shallow","v":2450,"d":601},{"s":"R1-R2: shallow","v":3286,"d":603},{"s":"R1-R2: shallow","v":2600,"d":608},{"s":"R1-R2: shallow","v":3400,"d":610},{"s":"R1-R2: shallow","v":2613,"d":615},{"s":"R1-R2: shallow","v":3044,"d":618},{"s":"R1-R2: shallow","v":2550,"d":627},{"s":"R1-R2: shallow","v":3200,"d":629},{"s":"R1-R2: shallow","v":2666,"d":637},{"s":"R1-R2: shallow","v":3100,"d":639},{"s":"R1-R2: shallow","v":2600,"d":646},{"s":"R1-R2: shallow","v":3350,"d":648},{"s":"R1-R2: shallow","v":2720,"d":655},{"s":"R1-R2: shallow","v":2963,"d":657},{"s":"R1-R2: shallow","v":2650,"d":668},{"s":"R1-R2: shallow","v":3000,"d":670},{"s":"R1-R2: shallow","v":2559,"d":682},{"s":"R1-R2: shallow","v":3260,"d":684},{"s":"R1-R2: shallow","v":2600,"d":694},{"s":"R1-R2: shallow","v":3300,"d":696},{"s":"R1-R2: shallow","v":2747,"d":705},{"s":"R1-R2: shallow","v":3150,"d":707},{"s":"R1-R2: shallow","v":2650,"d":716},{"s":"R1-R2: shallow","v":3200,"d":718},{"s":"R1-R2: shallow","v":2720,"d":726},{"s":"R1-R2: shallow","v":3314,"d":728},{"s":"R1-R2: shallow","v":2700,"d":735},{"s":"R1-R2: shallow","v":3400,"d":737},{"s":"R1-R2: shallow","v":2586,"d":744},{"s":"R1-R2: shallow","v":3557,"d":746},{"s":"R1-R2: shallow","v":2650,"d":752},{"s":"R1-R2: shallow","v":3100,"d":754},{"s":"R1-R2: shallow","v":2720,"d":758},{"s":"R1-R2: shallow","v":3557,"d":760},{"s":"R1-R2: shallow","v":2700,"d":770},{"s":"R1-R2: shallow","v":3300,"d":772},{"s":"R1-R2: shallow","v":2693,"d":780},{"s":"R1-R2: shallow","v":3044,"d":782},{"s":"R1-R2: shallow","v":2600,"d":795},{"s":"R1-R2: shallow","v":3250,"d":797},{"s":"R1-R2: shallow","v":2613,"d":807},{"s":"R1-R2: shallow","v":3070,"d":809},{"s":"R1-R2: shallow","v":2750,"d":820},{"s":"R1-R2: shallow","v":3150,"d":822},{"s":"R1-R2: shallow","v":2800,"d":834},{"s":"R1-R2: shallow","v":3044,"d":836},{"s":"R1-R2: shallow","v":2700,"d":850},{"s":"R1-R2: shallow","v":3250,"d":852},{"s":"R1-R2: shallow","v":2747,"d":866},{"s":"R1-R2: shallow","v":3530,"d":868},{"s":"R1-R2: shallow","v":2650,"d":877},{"s":"R1-R2: shallow","v":3300,"d":879},{"s":"R1-R2: shallow","v":2613,"d":887},{"s":"R1-R2: shallow","v":4677,"d":889},{"s":"R1-R2: shallow","v":2500,"d":897},{"s":"R1-R2: shallow","v":3700,"d":899},{"s":"R1-R2: shallow","v":1870,"d":905},{"s":"R1-R2: shallow","v":3150,"d":907},{"s":"R1-R2: shallow","v":2400,"d":918},{"s":"R1-R2: shallow","v":3300,"d":920},{"s":"R1-R2: shallow","v":2424,"d":932},{"s":"R1-R2: shallow","v":3205,"d":934},{"s":"R1-R2: shallow","v":2450,"d":941},{"s":"R1-R2: shallow","v":3100,"d":943},{"s":"R1-R2: shallow","v":2505,"d":950},{"s":"R1-R2: shallow","v":3044,"d":952},{"s":"R1-R2: shallow","v":2550,"d":959},{"s":"R1-R2: shallow","v":3350,"d":961},{"s":"R1-R2: shallow","v":2167,"d":968},{"s":"R1-R2: shallow","v":2666,"d":970},{"s":"R1-R2: shallow","v":2300,"d":977},{"s":"R1-R2: shallow","v":2950,"d":979},{"s":"R1-R2: shallow","v":2480,"d":986},{"s":"R1-R2: shallow","v":3044,"d":988},{"s":"R1-R2: shallow","v":2400,"d":995},{"s":"R1-R2: shallow","v":3100,"d":997},{"s":"R1-R2: shallow","v":2316,"d":1004},{"s":"R1-R2: shallow","v":3400,"d":1006},{"s":"R1-R2: shallow","v":2300,"d":1013},{"s":"R1-R2: shallow","v":3200,"d":1015},{"s":"R1-R2: shallow","v":2167,"d":1021},{"s":"R1-R2: shallow","v":2963,"d":1023},{"s":"R1-R2: shallow","v":2400,"d":1033},{"s":"R1-R2: shallow","v":3300,"d":1035},{"s":"R1-R2: shallow","v":2316,"d":1045},{"s":"R1-R2: shallow","v":3800,"d":1047}
],
"rd":[
{"s":"R1-R2: deep","v":2100,"d":1040},{"s":"R1-R2: deep","v":4000,"d":1042},{"s":"R1-R2: deep","v":2300,"d":1045},{"s":"R1-R2: deep","v":4500,"d":1047},{"s":"R1-R2: deep","v":2600,"d":1050},{"s":"R1-R2: deep","v":5200,"d":1055},{"s":"R1-R2: deep","v":2200,"d":1058},{"s":"R1-R2: deep","v":4800,"d":1062},{"s":"R1-R2: deep","v":2800,"d":1064},{"s":"R1-R2: deep","v":5400,"d":1066},{"s":"R1-R2: deep","v":3000,"d":1068},{"s":"R1-R2: deep","v":5600,"d":1072},{"s":"R1-R2: deep","v":3300,"d":1076},{"s":"R1-R2: deep","v":6000,"d":1080},{"s":"R1-R2: deep","v":3500,"d":1082},{"s":"R1-R2: deep","v":6200,"d":1085},{"s":"R1-R2: deep","v":3800,"d":1092},{"s":"R1-R2: deep","v":5800,"d":1095},{"s":"R1-R2: deep","v":4000,"d":1098},{"s":"R1-R2: deep","v":6300,"d":1100},{"s":"R1-R2: deep","v":4500,"d":1104},{"s":"R1-R2: deep","v":6500,"d":1108},{"s":"R1-R2: deep","v":4100,"d":1110},{"s":"R1-R2: deep","v":6800,"d":1112},{"s":"R1-R2: deep","v":4300,"d":1116},{"s":"R1-R2: deep","v":6200,"d":1120},{"s":"R1-R2: deep","v":4600,"d":1124},{"s":"R1-R2: deep","v":7200,"d":1126},{"s":"R1-R2: deep","v":4800,"d":1130},{"s":"R1-R2: deep","v":7000,"d":1135},{"s":"R1-R2: deep","v":4200,"d":1140},{"s":"R1-R2: deep","v":7500,"d":1142},{"s":"R1-R2: deep","v":4700,"d":1145},{"s":"R1-R2: deep","v":7800,"d":1147},{"s":"R1-R2: deep","v":4350,"d":1150},{"s":"R1-R2: deep","v":6500,"d":1155},{"s":"R1-R2: deep","v":4400,"d":1158},{"s":"R1-R2: deep","v":8200,"d":1160},{"s":"R1-R2: deep","v":5000,"d":1163},{"s":"R1-R2: deep","v":7300,"d":1168},{"s":"R1-R2: deep","v":5300,"d":1170},{"s":"R1-R2: deep","v":8800,"d":1172},{"s":"R1-R2: deep","v":5200,"d":1176},{"s":"R1-R2: deep","v":8000,"d":1180},{"s":"R1-R2: deep","v":5000,"d":1183},{"s":"R1-R2: deep","v":8400,"d":1185},{"s":"R1-R2: deep","v":5100,"d":1190},{"s":"R1-R2: deep","v":8600,"d":1195},{"s":"R1-R2: deep","v":5500,"d":1200},{"s":"R1-R2: deep","v":9200,"d":1202},{"s":"R1-R2: deep","v":5800,"d":1205},{"s":"R1-R2: deep","v":9050,"d":1210},{"s":"R1-R2: deep","v":5700,"d":1212},{"s":"R1-R2: deep","v":8900,"d":1214},{"s":"R1-R2: deep","v":6000,"d":1216},{"s":"R1-R2: deep","v":8600,"d":1220},{"s":"R1-R2: deep","v":6100,"d":1224},{"s":"R1-R2: deep","v":9000,"d":1226},{"s":"R1-R2: deep","v":5900,"d":1228},{"s":"R1-R2: deep","v":9100,"d":1232},{"s":"R1-R2: deep","v":5700,"d":1235},{"s":"R1-R2: deep","v":8700,"d":1237},{"s":"R1-R2: deep","v":6400,"d":1240},{"s":"R1-R2: deep","v":8200,"d":1242},{"s":"R1-R2: deep","v":6200,"d":1245},{"s":"R1-R2: deep","v":9200,"d":1247},{"s":"R1-R2: deep","v":6800,"d":1250},{"s":"R1-R2: deep","v":9350,"d":1252},{"s":"R1-R2: deep","v":6500,"d":1255},{"s":"R1-R2: deep","v":9000,"d":1256},{"s":"R1-R2: deep","v":7000,"d":1258},{"s":"R1-R2: deep","v":8800,"d":1262},{"s":"R1-R2: deep","v":6900,"d":1265},{"s":"R1-R2: deep","v":9150,"d":1266},{"s":"R1-R2: deep","v":6600,"d":1268},{"s":"R1-R2: deep","v":9343,"d":1272},{"s":"R1-R2: deep","v":6300,"d":1275},{"s":"R1-R2: deep","v":8900,"d":1276},{"s":"R1-R2: deep","v":7000,"d":1278},{"s":"R1-R2: deep","v":8500,"d":1282},{"s":"R1-R2: deep","v":6700,"d":1285},{"s":"R1-R2: deep","v":8700,"d":1286},{"s":"R1-R2: deep","v":6200,"d":1290},{"s":"R1-R2: deep","v":8300,"d":1295},{"s":"R1-R2: deep","v":6000,"d":1300},{"s":"R1-R2: deep","v":8100,"d":1302},{"s":"R1-R2: deep","v":6100,"d":1310},{"s":"R1-R2: deep","v":7600,"d":1312},{"s":"R1-R2: deep","v":5851,"d":1318},{"s":"R1-R2: deep","v":8000,"d":1320},{"s":"R1-R2: deep","v":6500,"d":1325}
],
"h1050":[{"s":"1050 ft","v":0,"d":1050},{"s":"1050 ft","v":12000,"d":1050}],
"v9200":[{"s":"9,200 ft/sec","v":9200,"d":0},{"s":"9,200 ft/sec","v":9200,"d":4500}],
"box":[{"v":8130,"v2":11910,"d":866,"d2":1081}],
"lbl":[{"v":8186,"d":1021,"t":"Bottom of Coastal Plain"}],
"picks":[{"s":"Rock Velocity Picks","v":2763,"d":1052},{"s":"Rock Velocity Picks","v":4193,"d":1070},{"s":"Rock Velocity Picks","v":5649,"d":1122},{"s":"Rock Velocity Picks","v":6649,"d":1180},{"s":"Rock Velocity Picks","v":7219,"d":1267}],
"slopes":[{"s":"Slope 0.6","v":7214,"d":1267},{"s":"Slope 0.6","v":9165,"d":4500},{"s":"Slope 0.9","v":7214,"d":1267},{"s":"Slope 0.9","v":9190,"d":3468},{"s":"Slope 1.3","v":7214,"d":1267},{"s":"Slope 1.3","v":9205,"d":2795}]
},
"encoding":{
"x":{"field":"v","type":"quantitative","scale":{"domain":[0,12000],"nice":false,"zero":false},
"axis":{"title":"Shear-Wave Velocity (ft/sec)","values":[0,500,1000,1500,2000,2500,3000,3500,4000,4500,5000,5500,6000,6500,7000,7500,8000,8500,9000,9500,10000,10500,11000,11500,12000],"format":"d","labelExpr":"datum.value % 2000 === 0 ? datum.label : ''","labelFlush":false,"labelOverlap":false,"labelPadding":34,"tickSize":8,"gridOpacity":{"condition":{"test":"datum.value % 2000 === 0","value":1},"value":0},"titleY":131,"titleBaseline":"alphabetic"}},
"y":{"field":"d","type":"quantitative","scale":{"domain":[0,4500],"reverse":true,"nice":false,"zero":false},
"axis":{"title":"Depth (ft)","values":[0,100,200,300,400,500,600,700,800,900,1000,1100,1200,1300,1400,1500,1600,1700,1800,1900,2000,2100,2200,2300,2400,2500,2600,2700,2800,2900,3000,3100,3200,3300,3400,3500,3600,3700,3800,3900,4000,4100,4200,4300,4400,4500],"format":"d","labelExpr":"datum.value % 500 === 0 ? datum.label : ''","labelFlush":false,"labelOverlap":false,"labelPadding":17,"tickSize":8,"gridOpacity":{"condition":{"test":"datum.value % 500 === 0","value":1},"value":0},"titleX":-118,"titleY":419.5,"titleAngle":-90,"titleBaseline":"alphabetic","titleAlign":"center"}}
},
"layer":[
{"data":{"name":"b11"},"mark":{"type":"line","strokeWidth":2.3,"strokeJoin":"round","strokeCap":"round"},
"encoding":{"color":{"field":"s","type":"nominal",
"scale":{"domain":["DRB-11 shifted","DRB-10 shifted","DRB-9 shifted","R1-R2: shallow","R1-R2: deep","1050 ft","9,200 ft/sec","Rock Velocity Picks","Slope 0.6","Slope 0.9","Slope 1.3"],"range":["#3366FF","#00FF00","#000000","#FF0000","#FF0000","#000000","#800000","#000000","#008000","#FFC000","#3366FF"]},
"legend":{"title":null,"orient":"none","legendX":40,"legendY":286,"fillColor":"#ffffff","strokeColor":"#000000","padding":7,"clipHeight":38,"rowPadding":9.7,"symbolOffset":11.5,"labelOffset":10,"symbolSize":5776,"symbolType":"stroke","symbolStrokeWidth":2,"labelFontSize":32,"labelFont":"Liberation Sans","labelColor":"#000","labelLimit":400,
"encode":{"symbols":{"update":{
"shape":{"signal":"(datum.value === 'Rock Velocity Picks' ? 'circle' : 'stroke')"},
"size":{"signal":"(datum.value === 'Rock Velocity Picks' ? 400 : 5776)"},
"strokeWidth":{"signal":"(datum.value === 'DRB-9 shifted' ? 5 : (indexof(['Slope 0.6','Slope 0.9','Slope 1.3'], datum.value) >= 0 ? 7 : (indexof(['1050 ft','9,200 ft/sec'], datum.value) >= 0 ? 3 : 2)))"},
"strokeDash":{"signal":"(datum.value === '1050 ft' ? [18,10,5,10] : (datum.value === '9,200 ft/sec' ? [5,8] : [1,0]))"},
"fill":{"value":"transparent"}
}}}}},
"order":{"value":null}}},
{"data":{"name":"g10"},"mark":{"type":"line","strokeWidth":2.4,"strokeJoin":"round","strokeCap":"round"},"encoding":{"color":{"field":"s","type":"nominal"},"order":{"value":null}}},
{"data":{"name":"k9"},"mark":{"type":"line","strokeWidth":5,"strokeJoin":"round","strokeCap":"round"},"encoding":{"color":{"field":"s","type":"nominal"},"order":{"value":null}}},
{"data":{"name":"rs"},"mark":{"type":"line","strokeWidth":3,"strokeJoin":"round","strokeCap":"round"},"encoding":{"color":{"field":"s","type":"nominal"},"order":{"value":null}}},
{"data":{"name":"rd"},"mark":{"type":"line","strokeWidth":3,"strokeJoin":"round","strokeCap":"round"},"encoding":{"color":{"field":"s","type":"nominal"},"order":{"value":null}}},
{"data":{"name":"h1050"},"mark":{"type":"line","strokeWidth":3.5,"strokeDash":[18,10,5,10]},"encoding":{"color":{"field":"s","type":"nominal"},"order":{"value":null}}},
{"data":{"name":"v9200"},"mark":{"type":"line","strokeWidth":3,"strokeDash":[5,11]},"encoding":{"color":{"field":"s","type":"nominal"},"order":{"value":null}}},
{"data":{"name":"box"},"mark":{"type":"rect","fill":"#ffffff"},"encoding":{"x2":{"field":"v2"},"y2":{"field":"d2"}}},
{"data":{"name":"lbl"},"mark":{"type":"text","font":"Liberation Sans","fontSize":29,"align":"left","baseline":"alphabetic","color":"#000"},"encoding":{"text":{"field":"t"}}},
{"data":{"name":"picks"},"mark":{"type":"point","filled":false,"shape":"circle","size":680,"strokeWidth":2.5,"opacity":1},"encoding":{"color":{"field":"s","type":"nominal"}}},
{"data":{"name":"slopes"},"mark":{"type":"line","strokeWidth":6,"strokeCap":"round"},"encoding":{"color":{"field":"s","type":"nominal"},"order":{"value":null}}}
]
}
